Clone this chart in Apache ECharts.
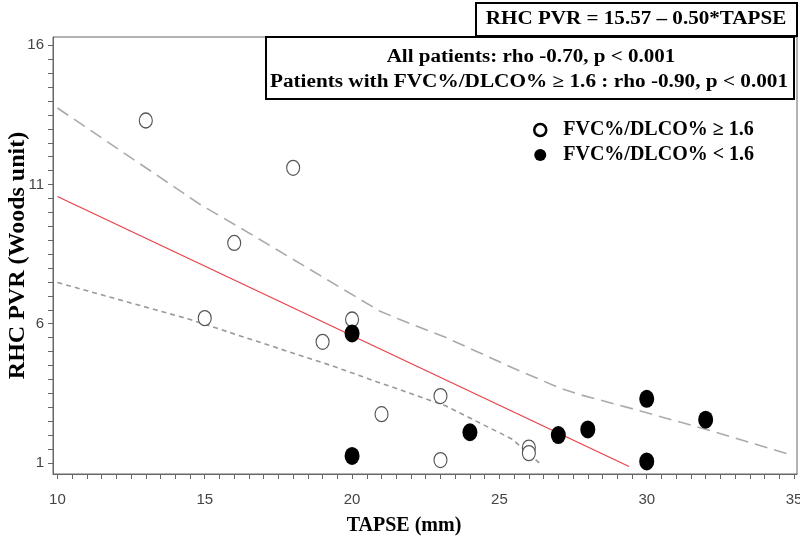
<!DOCTYPE html>
<html>
<head>
<meta charset="utf-8">
<script src="https://cdn.jsdelivr.net/npm/echarts@6/dist/echarts.min.js"></script>
<style>
html,body{margin:0;padding:0;background:#fff;}
#chart{width:800px;height:544px;}
</style>
</head>
<body>
<div id="chart"></div>
<script>
// ---- data ----
var xTickLabels = [10, 15, 20, 25, 30, 35];
var yTickLabels = [1, 6, 11, 16];

var highRatioTAPSE = [13, 18, 16, 15, 19, 20, 21, 23, 23, 26, 26];
var highRatioPVR   = [13.3, 11.6, 8.9, 6.2, 5.35, 6.15, 2.75, 3.4, 1.1, 1.55, 1.35];

var lowRatioTAPSE = [20, 20, 24, 27, 28, 30, 30, 32];
var lowRatioPVR   = [5.65, 1.25, 2.1, 2.0, 2.2, 3.3, 1.05, 2.55];

var fitTAPSE = [10, 29.4];
var fitPVR   = [10.57, 0.87];

var upperTAPSE = [10, 14.82, 16.18, 20.93, 21.6, 23.19, 25.44, 27.02, 27.7, 29.6, 32.22, 34.94];
var upperPVR   = [13.75, 10.3, 9.46, 6.46, 6.16, 5.5, 4.42, 3.7, 3.46, 2.92, 2.14, 1.27];

var lowerTAPSE = [10, 14.48, 15.17, 17.08, 19.34, 20.93, 21.6, 23.19, 25.44, 26.35];
var lowerPVR   = [7.48, 6.16, 5.92, 5.26, 4.48, 3.88, 3.64, 3.04, 1.85, 1.0];

var legendNames = ['FVC%/DLCO% \u2265 1.6', 'FVC%/DLCO% < 1.6'];
var equationText = 'RHC PVR = 15.57 \u2013 0.50*TAPSE';
var statLines = ['All patients: rho -0.70, p < 0.001',
                 'Patients with FVC%/DLCO% \u2265 1.6 : rho -0.90, p < 0.001'];
var xTitle = 'TAPSE (mm)';
var yTitle = 'RHC PVR (Woods unit)';

// ---- helpers ----
function zip(a, b) { var r = []; for (var i = 0; i < a.length; i++) r.push([a[i], b[i]]); return r; }
function steps(from, to, step) { var r = []; for (var v = from; v <= to + 1e-9; v += step) r.push(Math.round(v * 100) / 100); return r; }

var X_MIN = 9.85, X_MAX = 35.1, Y_MIN = 0.6, Y_MAX = 16.3;
var ellipse = 'path://M0,-1A1,1,0,1,1,0,1A1,1,0,1,1,0,-1Z';
var serif = '"Liberation Serif","Times New Roman",serif';
var sans = '"Liberation Sans",Arial,sans-serif';
var axisColor = '#666';

var chart = echarts.init(document.getElementById('chart'), null, {renderer: 'canvas'});
chart.setOption({
  animation: false,
  backgroundColor: '#fff',
  grid: {left: 53, right: 3, top: 37, bottom: 70, containLabel: false, outerBoundsMode: 'none',
         show: true, borderColor: axisColor, borderWidth: 1},
  xAxis: {
    type: 'value', min: X_MIN, max: X_MAX,
    name: xTitle, nameLocation: 'middle', nameGap: 42, nameMoveOverlap: false,
    nameTextStyle: {fontFamily: serif, fontWeight: 'bold', fontSize: 20, color: '#000', padding: [0, 42, 0, 0]},
    axisLine: {show: true, lineStyle: {color: axisColor}},
    axisTick: {show: true, length: 5, customValues: steps(10, 35, 0.5), lineStyle: {color: axisColor}},
    axisLabel: {customValues: xTickLabels, fontFamily: sans, fontSize: 15, color: '#444', margin: 18},
    splitLine: {show: false}
  },
  yAxis: {
    type: 'value', min: Y_MIN, max: Y_MAX,
    name: yTitle, nameLocation: 'middle', nameGap: 23, nameRotate: 90, nameMoveOverlap: false,
    nameTextStyle: {fontFamily: serif, fontWeight: 'bold', fontSize: 24, color: '#000'},
    axisLine: {show: true, lineStyle: {color: axisColor}},
    axisTick: {show: true, length: 5, customValues: steps(1, 16, 0.5), lineStyle: {color: axisColor}},
    axisLabel: {customValues: yTickLabels, fontFamily: sans, fontSize: 15, color: '#444', margin: 9},
    splitLine: {show: false}
  },
  legend: {
    orient: 'vertical', left: 528, top: 115, itemWidth: 12, itemHeight: 13, itemGap: 5,
    textStyle: {fontFamily: serif, fontWeight: 'bold', fontSize: 20, color: '#000', padding: [2, 0, 0, 12]},
    data: [
      {name: legendNames[0], icon: ellipse, itemStyle: {color: '#fff', borderColor: '#000', borderWidth: 2.5}},
      {name: legendNames[1], icon: ellipse, itemStyle: {color: '#000', borderColor: '#000', borderWidth: 0}}
    ]
  },
  series: [
    {type: 'line', name: 'upper', data: zip(upperTAPSE, upperPVR), showSymbol: false, symbol: 'none',
     lineStyle: {color: '#aaa', width: 1.6, type: [13, 7]}, z: 2, silent: true},
    {type: 'line', name: 'lower', data: zip(lowerTAPSE, lowerPVR), showSymbol: false, symbol: 'none',
     lineStyle: {color: '#999', width: 1.6, type: [5, 4]}, z: 2, silent: true},
    {type: 'line', name: 'fit', data: zip(fitTAPSE, fitPVR), showSymbol: false, symbol: 'none',
     lineStyle: {color: '#e8434a', width: 1.3}, z: 3, silent: true},
    {type: 'scatter', name: legendNames[0], data: zip(highRatioTAPSE, highRatioPVR), symbol: ellipse, symbolSize: [13, 15],
     itemStyle: {color: '#fff', borderColor: '#555', borderWidth: 1.2, opacity: 1}, z: 4},
    {type: 'scatter', name: legendNames[1], data: zip(lowRatioTAPSE, lowRatioPVR), symbol: ellipse, symbolSize: [15, 18],
     itemStyle: {color: '#000', opacity: 1}, z: 5}
  ],
  graphic: [
    {type: 'rect', left: 475, top: 2, z: 100,
     shape: {width: 321, height: 33}, style: {fill: '#fff', stroke: '#000', lineWidth: 2}},
    {type: 'text', x: 636, y: 19, scaleX: 1.11, z: 101,
     style: {text: equationText, font: 'bold 19px ' + serif, fill: '#000', align: 'center', verticalAlign: 'middle'}},
    {type: 'rect', left: 265, top: 36, z: 100,
     shape: {width: 528, height: 62}, style: {fill: '#fff', stroke: '#000', lineWidth: 2}},
    {type: 'text', x: 531, y: 57, scaleX: 1.17, z: 101,
     style: {text: statLines[0], font: 'bold 18px ' + serif, fill: '#000', align: 'center', verticalAlign: 'middle'}},
    {type: 'text', x: 529, y: 82, scaleX: 1.18, z: 101,
     style: {text: statLines[1], font: 'bold 18px ' + serif, fill: '#000', align: 'center', verticalAlign: 'middle'}}
  ]
});
</script>
</body>
</html>
